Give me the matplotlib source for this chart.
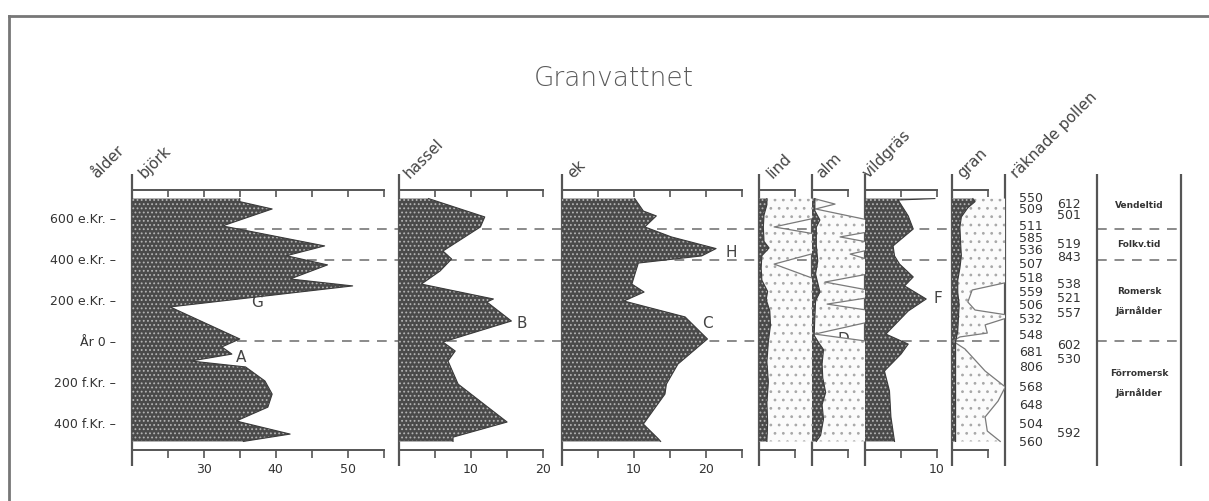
import matplotlib
matplotlib.use("Agg")
import matplotlib.pyplot as plt

# ages in years (negative = f.Kr.), values in percent
bjork_age = [700, 685, 649, 566, 468, 420, 375, 306, 272, 169, 12, -27, -62, -96, -125, -194, -258, -322, -390, -454, -490]
bjork_pct = [35.0, 35.0, 39.5, 32.6, 46.8, 41.5, 47.2, 42.0, 50.7, 25.3, 35.0, 32.5, 33.9, 28.2, 35.8, 38.5, 39.5, 38.9, 34.5, 42.0, 35.5]

hassel_age = [700, 610, 561, 443, 404, 345, 281, 208, 193, 100, -3, -47, -96, -209, -395, -469, -490]
hassel_pct = [4.1, 11.9, 11.3, 6.1, 7.3, 5.7, 3.1, 13.1, 12.2, 15.6, 6.1, 7.8, 6.8, 8.2, 15.0, 7.5, 7.5]

ek_age = [700, 639, 615, 561, 512, 455, 419, 384, 281, 242, 198, 120, 12, -111, -209, -258, -405, -478, -490]
ek_pct = [10.1, 11.3, 13.1, 11.5, 15.2, 21.4, 19.4, 10.6, 9.7, 11.4, 8.6, 17.1, 20.2, 16.1, 14.5, 14.3, 11.3, 13.4, 13.7]

lind_age = [700, 670, 620, 560, 490, 458, 420, 360, 300, 245, 205, 150, 80, 0, -100, -200, -300, -400, -490]
lind_pct = [1.1, 1.1, 0.7, 0.6, 0.7, 1.4, 0.4, 0.3, 0.4, 1.2, 1.0, 1.5, 1.6, 1.3, 1.1, 1.3, 1.1, 1.2, 1.1]
lind_exag_age = [700, 610, 561, 522, 440, 379, 296, -490]
lind_exag = [8.5, 8.5, 2.1, 8.5, 8.5, 2.1, 8.5, 8.5]

alm_age = [700, 640, 595, 560, 470, 394, 330, 242, 200, 120, 30, -10, -40, -110, -180, -250, -310, -380, -460, -490]
alm_pct = [0.4, 0.4, 1.1, 0.6, 0.6, 0.8, 0.5, 1.1, 0.5, 0.4, 0.3, 1.0, 1.6, 1.4, 1.5, 1.9, 1.4, 1.6, 1.2, 0.6]
alm_exag_age = [700, 673, 649, 590, 541, 512, 482, 453, 428, 394, 335, 291, 247, 218, 183, 149, 100, 36, -3, -490]
alm_exag = [0.3, 3.2, 0.5, 8.5, 8.5, 3.9, 8.5, 8.5, 5.3, 8.5, 8.5, 1.8, 8.5, 8.5, 2.1, 8.5, 8.5, 0.4, 8.5, 8.5]

vild_age = [700, 693, 615, 551, 468, 419, 379, 316, 272, 208, 149, 36, -13, -62, -145, -243, -370, -490]
vild_pct = [9.7, 4.6, 6.0, 6.7, 3.9, 4.1, 4.8, 6.7, 5.5, 8.5, 6.0, 2.9, 6.0, 5.0, 2.7, 3.4, 3.6, 4.1]

gran_age = [700, 685, 655, 610, 560, 480, 420, 360, 300, 240, 180, 120, 50, 0, -490]
gran_pct = [2.9, 3.2, 2.2, 1.3, 1.1, 1.2, 1.3, 1.1, 0.8, 0.8, 1.0, 0.9, 0.8, 0.5, 0.5]
gran_exag_age = [700, 296, 252, 193, 154, 125, 81, 41, 22, 2, -37, -145, -223, -292, -370, -439, -490]
gran_exag = [8.5, 8.5, 2.8, 2.2, 3.2, 8.5, 4.6, 4.9, 1.1, 0.1, 1.8, 4.6, 7.4, 6.4, 4.6, 4.9, 6.7]

counts_1 = [550, 509, 511, 585, 536, 507, 518, 559, 506, 532, 548, 681, 806, 568, 648, 504, 560]
counts_1_age = [703, 649, 566, 507, 448, 380, 311, 247, 179, 110, 32, -47, -125, -223, -311, -400, -488]
counts_2 = [612, 501, 519, 843, 538, 521, 557, 602, 530, 592]
counts_2_age = [678, 620, 478, 414, 282, 213, 144, -13, -86, -444]

age_ticks = [600, 400, 200, 0, -200, -400]
age_labels = ["600 e.Kr. –", "400 e.Kr. –", "200 e.Kr. –", "År 0 –", "200 f.Kr. –", "400 f.Kr. –"]
boundaries = [551, 400, 0]
periods = ["Vendeltid", "Folkv.tid", "Romersk", "Järnålder", "Förromersk", "Järnålder"]
period_age = [673, 478, 252, 154, -150, -248]

letters = ["A", "G", "B", "C", "H", "D", "E", "F", "I"]
letter_x = [241, 257, 522, 707, 731, 843, 778, 938, 980]
letter_age = [-76, 198, 95, 95, 443, 12, 247, 213, 414]

W, H = 1209, 502
YLIM = (-532, 742)
AX_TOP, AX_BOT = 191, 451
GREY = "#555555"
DARK = dict(facecolor="#4a4a4a", edgecolor="#b4b4b4", hatch="....", linewidth=0)
DOTS = dict(facecolor="#fbfbfb", edgecolor="#a8a8a8", hatch="..", linewidth=0)

fig = plt.figure(figsize=(W / 100, H / 100), dpi=100)
plt.rcParams["hatch.linewidth"] = 0.8

# background in pixel units: border, headers, title
bg = fig.add_axes([0, 0, 1, 1])
bg.set_xlim(0, W)
bg.set_ylim(H, 0)
bg.axis("off")
bg.plot([9, 9], [17, H], color="#777777", lw=2)
bg.plot([9, W], [17, 17], color="#777777", lw=2)
bg.text(614, 78, "Granvattnet", ha="center", va="center", fontsize=19, color="#5a5a5a", family="DejaVu Sans", fontweight="light")

headers = [("ålder", 97), ("björk", 145), ("hassel", 410), ("ek", 573), ("lind", 773),
           ("alm", 822), ("vildgräs", 868), ("gran", 963), ("räknade pollen", 1017)]
for name, hx in headers:
    bg.text(hx, 179, name, rotation=45, rotation_mode="anchor", ha="left", va="baseline",
            fontsize=11, color="#444444")

# reference axes: x in pixels, y in years
bottom = (H - AX_BOT) / H
height = (AX_BOT - AX_TOP) / H
ref = fig.add_axes([0, bottom, 1, height])
ref.set_xlim(0, W)
ref.set_ylim(*YLIM)
ref.axis("off")
ref.patch.set_alpha(0)
ref.hlines(boundaries, 132, 1005, colors="#8a8a8a", linestyles=(0, (5, 4)), lw=1.4, zorder=0)
ref.hlines(boundaries, 1097, 1181, colors="#8a8a8a", linestyles=(0, (5, 4)), lw=1.4, zorder=0)
ref.vlines([132, 399, 562, 759, 812, 865, 952, 1005, 1097, 1181], -610, 820,
           colors=GREY, lw=1.6, clip_on=False, zorder=5)
for a, lab in zip(age_ticks, age_labels):
    ref.text(116, a, lab, ha="right", va="center", fontsize=9, color="#333333")
for a, c in zip(counts_1_age, counts_1):
    ref.text(1019, a, str(c), ha="left", va="center", fontsize=9, color="#333333")
for a, c in zip(counts_2_age, counts_2):
    ref.text(1057, a, str(c), ha="left", va="center", fontsize=9, color="#333333")
for a, p in zip(period_age, periods):
    ref.text(1139, a, p, ha="center", va="center", fontsize=6.5, fontweight="bold", color="#333333")
for lx, la, l in zip(letter_x, letter_age, letters):
    ref.text(lx, la, l, ha="center", va="center", fontsize=11, color="#444444", zorder=10)


def panel(x0, x1, lo, hi, ticks, labels, bounds):
    ax = fig.add_axes([x0 / W, bottom, (x1 - x0) / W, height])
    ax.set_xlim(lo, hi)
    ax.set_ylim(*YLIM)
    ax.patch.set_alpha(0)
    for s in ["left", "right"]:
        ax.spines[s].set_visible(False)
    for s in ["top", "bottom"]:
        ax.spines[s].set_color(GREY)
        ax.spines[s].set_linewidth(1.4)
        ax.spines[s].set_bounds(*bounds)
    ax.set_yticks([])
    ax.set_xticks(ticks)
    ax.set_xticklabels(labels)
    ax.tick_params(axis="x", top=True, bottom=True, labelsize=9, color=GREY, width=1.2, labelcolor="#333333")
    ax.tick_params(axis="x", which="major", direction="out", length=6, pad=3)
    ax.xaxis.set_ticks_position("both")
    for t in ax.xaxis.get_major_ticks():
        t.tick2line.set_marker(3)  # top ticks point down into the panel
        t.tick2line.set_markersize(5)
    return ax


def dark(ax, age, pct, base=0):
    ax.fill_betweenx(age, base, pct, **DARK)
    ax.plot(pct, age, color="#3a3a3a", lw=0.8)


def dots(ax, age, vals):
    ax.fill_betweenx(age, 0, vals, **DOTS)
    ax.plot(vals, age, color="#7a7a7a", lw=0.9)


ax = panel(132, 385, 20, 55.2, [20, 25, 30, 35, 40, 45, 50, 55], ["", "", "30", "", "40", "", "50", ""], (20, 55))
dark(ax, bjork_age, bjork_pct, base=20)

ax = panel(399, 546, 0, 20.4, [0, 5, 10, 15, 20], ["", "", "10", "", "20"], (0, 20))
dark(ax, hassel_age, hassel_pct)

ax = panel(562, 742, 0, 25, [0, 5, 10, 15, 20, 25], ["", "", "10", "", "20", ""], (0, 25))
dark(ax, ek_age, ek_pct)

ax = panel(759, 812, 0, 53 / 7.2, [0, 5], ["", ""], (0, 5))
dots(ax, lind_exag_age, lind_exag)
dark(ax, lind_age, lind_pct)

ax = panel(812, 865, 0, 53 / 7.2, [0, 5], ["", ""], (0, 5))
dots(ax, alm_exag_age, alm_exag)
dark(ax, alm_age, alm_pct)

ax = panel(865, 952, 0, 87 / 7.2, [0, 5, 10], ["", "", "10"], (0, 10))
dark(ax, vild_age, vild_pct)

ax = panel(952, 1005, 0, 53 / 7.2, [0, 5], ["", ""], (0, 5))
dots(ax, gran_exag_age, gran_exag)
dark(ax, gran_age, gran_pct)

fig.savefig("out.png", dpi=100)
